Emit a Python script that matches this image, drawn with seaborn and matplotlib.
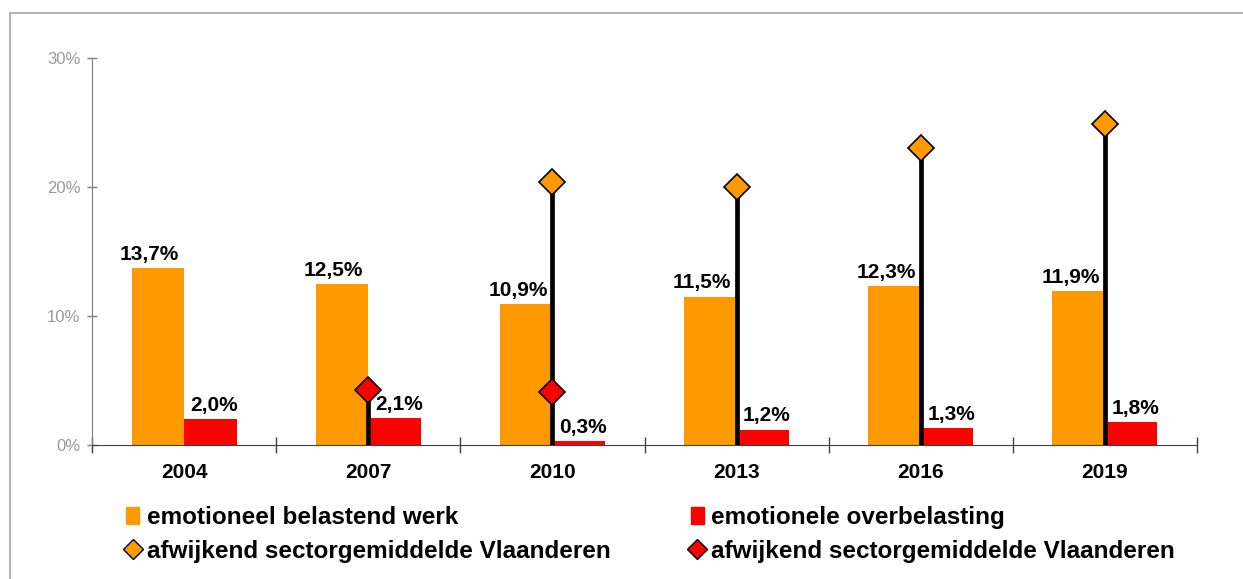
import numpy as np
import pandas as pd
import matplotlib.pyplot as plt
import seaborn as sns
from matplotlib.patches import Patch, Rectangle
from matplotlib.lines import Line2D

# data (percentages)
years = ["2004", "2007", "2010", "2013", "2016", "2019"]
belastend = [13.7, 12.5, 10.9, 11.5, 12.3, 11.9]
overbelasting = [2.0, 2.1, 0.3, 1.2, 1.3, 1.8]
sector_belastend = [np.nan, np.nan, 20.4, 20.0, 23.0, 24.9]
sector_overbelasting = [np.nan, 4.3, 4.1, np.nan, np.nan, np.nan]

lbl_belastend = "emotioneel belastend werk"
lbl_overbelasting = "emotionele overbelasting"
lbl_sector = "afwijkend sectorgemiddelde Vlaanderen"

ORANGE = "#FF9900"
RED = "#FF0000"

sns.set_style("white")
plt.rcParams["font.family"] = ["Liberation Sans", "DejaVu Sans"]
plt.rcParams["text.color"] = "black"
plt.rcParams["xtick.labelcolor"] = "black"

df = pd.DataFrame({"jaar": years * 2,
                   "waarde": belastend + overbelasting,
                   "reeks": [lbl_belastend] * 6 + [lbl_overbelasting] * 6})

fig = plt.figure(figsize=(12.43, 5.79), dpi=100)
ax = fig.add_axes([92 / 1243, 1 - 445 / 579, (1197 - 92) / 1243, (445 - 58) / 579])

sns.barplot(data=df, x="jaar", y="waarde", hue="reeks", order=years,
            palette=[ORANGE, RED], width=0.57, saturation=1, ax=ax,
            legend=False, linewidth=0)

# value labels
pos = np.arange(len(years))
bw = 0.57 / 2
for i in range(len(years)):
    ax.annotate(f"{belastend[i]:.1f}%".replace(".", ","), (pos[i] - bw / 2, belastend[i]),
                xytext=(-6, 3), textcoords="offset points", ha="center", va="bottom",
                fontsize=15, fontweight="bold", color="black")
    ax.annotate(f"{overbelasting[i]:.1f}%".replace(".", ","), (pos[i] + bw / 2, overbelasting[i]),
                xytext=(3, 3), textcoords="offset points", ha="center", va="bottom",
                fontsize=15, fontweight="bold", color="black")

# sector average: black stem + diamonds
top = np.fmax(np.nan_to_num(sector_belastend), np.nan_to_num(sector_overbelasting))
has = top > 0
ax.vlines(pos[has], 0, top[has], color="black", lw=3.4, zorder=4)
ax.plot(pos, sector_belastend, ls="none", marker="D", ms=13.5, mfc=ORANGE,
        mec="black", mew=1.2, zorder=5)
ax.plot(pos, sector_overbelasting, ls="none", marker="D", ms=13.5, mfc=RED,
        mec="black", mew=1.2, zorder=5)

# axes styling
ax.set_xlim(-0.5, len(years) - 0.5)
ax.set_ylim(0, 30)
ax.set_yticks([0, 10, 20, 30])
ax.set_yticklabels(["0%", "10%", "20%", "30%"])
ax.tick_params(axis="y", direction="inout", length=7, width=1, color="#7f7f7f",
               labelsize=12, labelcolor="#999999", pad=5, left=True)
ax.set_xticks(pos)
ax.set_xticklabels(years, fontsize=15, fontweight="bold", color="black")
ax.set_xticks(np.arange(-0.5, len(years)), minor=True)
ax.tick_params(axis="x", which="major", length=0, pad=13)
ax.tick_params(axis="x", which="minor", direction="inout", length=11, width=1,
               color="#404040", bottom=True)
ax.set_xlabel("")
ax.set_ylabel("")
sns.despine(ax=ax)
ax.spines["left"].set_color("#7f7f7f")
ax.spines["bottom"].set_color("#404040")

# legend
handles = [Patch(color=ORANGE),
           Line2D([], [], ls="none", marker="D", ms=10, mfc=ORANGE, mec="black", mew=1),
           Patch(color=RED),
           Line2D([], [], ls="none", marker="D", ms=10, mfc=RED, mec="black", mew=1)]
labels = [lbl_belastend, lbl_sector, lbl_overbelasting, lbl_sector]
fig.legend(handles, labels, ncol=2, loc="upper left",
           bbox_to_anchor=(126 / 1243, 1 - 506 / 579), frameon=False,
           borderpad=0, borderaxespad=0, handlelength=0.55, handleheight=0.75,
           handletextpad=0.3, columnspacing=3.3, labelspacing=0.45,
           prop={"size": 17.5, "weight": "bold"})

# outer frame
fig.patches.append(Rectangle((10 / 1243, -0.1), 1.2, 1 - 13 / 579 + 0.1,
                             transform=fig.transFigure, fill=False,
                             edgecolor="#a6a6a6", lw=1.2))

fig.savefig("out.png", dpi=100)
